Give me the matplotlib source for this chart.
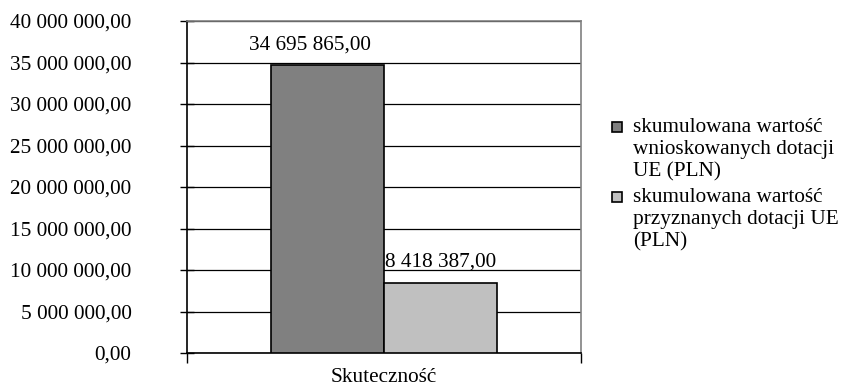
import matplotlib.pyplot as plt
from matplotlib.patches import Rectangle
from matplotlib.ticker import FuncFormatter

plt.rcParams['font.family'] = ['Liberation Serif', 'DejaVu Serif']

# dane
kategoria = "Skuteczność"
serie = ["skumulowana wartość\nwnioskowanych dotacji\nUE (PLN)",
         "skumulowana wartość\nprzyznanych dotacji UE\n(PLN)"]
wartosci = [34695865.00, 8418387.00]
kolory = ["#808080", "#c0c0c0"]
etykiety = ["34 695 865,00", "8 418 387,00"]

FS = 15.3
W, H = 841, 389


def fmt(v, pos):
    s = f"{v:,.2f}".replace(",", " ").replace(".", ",")
    return s


fig = plt.figure(figsize=(W / 100, H / 100), dpi=100)
ax = fig.add_axes([0.2224, 0.0925, 0.4684, 0.8535])

szer = 0.287
pozycje = [-szer / 2, szer / 2]
for x, v, k, lab in zip(pozycje, wartosci, kolory, serie):
    ax.bar(x, v, width=szer, color=k, edgecolor="black", linewidth=1.2,
           label=lab, zorder=3)

# etykiety danych
ax.annotate(etykiety[0], (pozycje[0], wartosci[0]), xytext=(-18, 10),
            textcoords="offset pixels", ha="center", va="bottom", fontsize=FS)
ax.annotate(etykiety[1], (pozycje[1], wartosci[1]), xytext=(0, 12),
            textcoords="offset pixels", ha="center", va="bottom", fontsize=FS)

ax.set_xlim(-0.5, 0.5)
ax.set_ylim(0, 40000000)
ax.set_yticks(range(0, 40000001, 5000000))
ax.yaxis.set_major_formatter(FuncFormatter(fmt))
ax.tick_params(axis="y", labelsize=FS, direction="inout", length=10,
               width=1, pad=35)
ax.grid(axis="y", color="black", linewidth=0.9, zorder=0)

ax.set_xticks([0])
ax.set_xticklabels([kategoria], fontsize=FS)
ax.set_xticks([-0.5, 0.5], minor=True)
ax.tick_params(axis="x", which="major", length=0, pad=11)
ax.tick_params(axis="x", which="minor", length=7, width=1, direction="out")

for s in ["top", "right"]:
    ax.spines[s].set_color("#808080")
    ax.spines[s].set_linewidth(1.2)
for s in ["left", "bottom"]:
    ax.spines[s].set_color("black")
    ax.spines[s].set_linewidth(1.2)

# legenda (znacznik przy pierwszej linii opisu)
y0 = [127, 197]
for lab, k, y in zip(serie, kolory, y0):
    fig.patches.append(Rectangle((612 / W, 1 - (y + 5) / H), 10 / W, 10 / H,
                                 transform=fig.transFigure, facecolor=k,
                                 edgecolor="black", linewidth=1.2))
    for i, linia in enumerate(lab.split("\n")):
        fig.text(633 / W, 1 - (y + i * 22.5) / H, linia, fontsize=FS,
                 ha="left", va="center")

fig.savefig("out.png", dpi=100)
